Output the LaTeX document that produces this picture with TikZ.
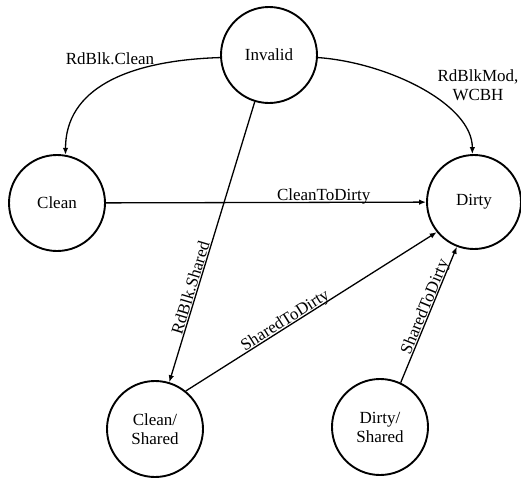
\documentclass[tikz,border=0pt]{standalone}
\usepackage{fontspec}
\setmainfont{Liberation Serif}
\usetikzlibrary{arrows.meta}
\begin{document}
\begin{tikzpicture}[x=1pt,y=-1pt,
  state/.style={draw, circle, line width=1.9pt, minimum size=96pt, inner sep=0pt, align=center, font=\fontsize{17}{19}\selectfont},
  lbl/.style={font=\fontsize{17}{19}\selectfont, inner sep=0pt, text depth=0pt},
  fwd/.style={line width=1.3pt, -{Latex[length=7pt,width=5.5pt]}},
  bwd/.style={line width=1.3pt, {Latex[length=7pt,width=5.5pt]}-}]
\useasboundingbox (0,0) rectangle (521,479);
\node[state] (inv) at (269,55) {Invalid};
\node[state] (cl) at (57,203) {Clean};
\node[state, minimum size=94pt] (dirty) at (474,202) {Dirty};
\node[state] (cs) at (155,429) {Clean/\\Shared};
\node[state] (ds) at (380,427) {Dirty/\\Shared};
% curved transitions
\draw[fwd] (inv.183) .. controls +(-95,3) and +(0,-65) .. (cl.80);
\node[lbl] (lrc) at (110,59) {RdBlk.Clean};
\draw[fwd] (inv.-3) .. controls +(70,5) and +(0,-50) .. (dirty.92);
\node[lbl, align=center] (lrm) at (478,85) {RdBlkMod,\\WCBH};
% straight transitions
\draw[fwd] (cl) -- node[lbl, above=1pt, pos=0.68] (lctd) {CleanToDirty} (dirty);
\draw[bwd] (cs) -- node[lbl, sloped, above=1pt, pos=0.33] (lrs) {RdBlk.Shared} (inv);
\draw[fwd] (cs.51) -- node[lbl, sloped, above=1pt, pos=0.41] (lstd1) {SharedToDirty} (dirty.219);
\draw[fwd] (ds.65) -- node[lbl, sloped, above=1pt, pos=0.54] (lstd2) {SharedToDirty} (dirty.249);
\end{tikzpicture}
\end{document}
